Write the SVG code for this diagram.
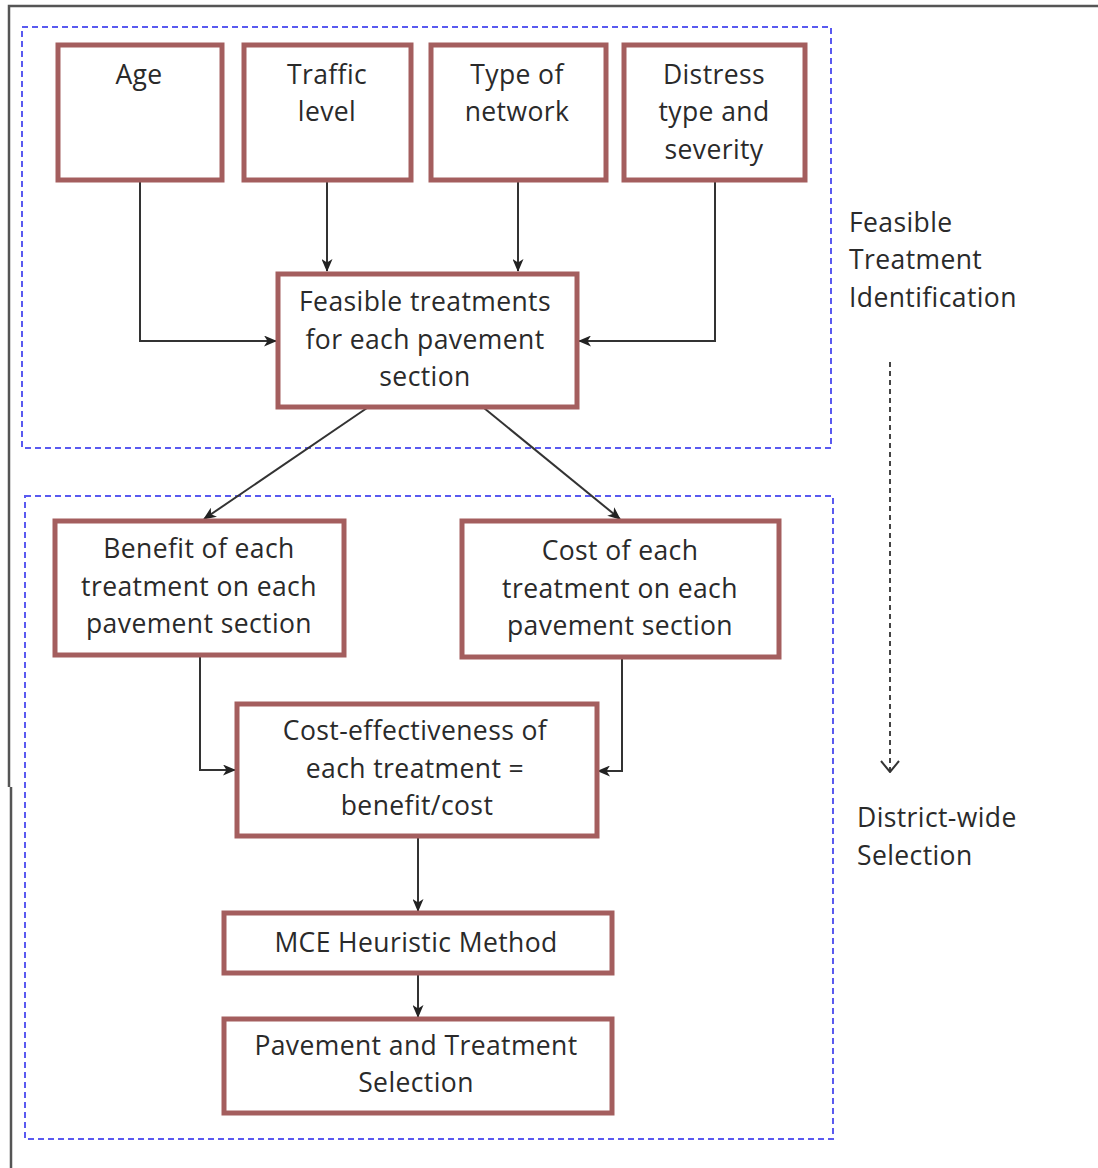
<svg xmlns="http://www.w3.org/2000/svg" width="1098" height="1168" viewBox="0 0 1098 1168">
<defs>
<style>
.box{fill:#fff;stroke:#a45e5e;stroke-width:5}
.grp{fill:none;stroke:#5a5af0;stroke-width:2;stroke-dasharray:6,4}
.t{font-family:"Open Sans","Liberation Sans",Arial,sans-serif;font-size:26.5px;letter-spacing:0.4px;fill:#2a2a2a;text-anchor:middle;dominant-baseline:central}
.lbl{font-family:"Open Sans","Liberation Sans",Arial,sans-serif;font-size:26.5px;letter-spacing:0.4px;fill:#2a2a2a;dominant-baseline:central}
.c{fill:none;stroke:#333;stroke-width:2}
</style>
<marker id="ah" viewBox="0 0 13 11" refX="12" refY="5.5" markerWidth="13" markerHeight="11" markerUnits="userSpaceOnUse" orient="auto">
<path d="M0,0 L13,5.5 L0,11 L3.5,5.5 Z" fill="#222"/>
</marker>
<marker id="oh" viewBox="0 0 20 14" refX="10" refY="13" markerWidth="20" markerHeight="14" markerUnits="userSpaceOnUse" orient="0">
<path d="M1,2 L10,13 L19,2" fill="none" stroke="#333" stroke-width="2"/>
</marker>
</defs>
<rect width="1098" height="1168" fill="#fff"/>
<g id="frame">
<path d="M1098,6 H9 V787" fill="none" stroke="#555" stroke-width="2.5"/>
<path d="M11,787 V1168" fill="none" stroke="#555" stroke-width="2.5"/>
</g>
<g id="group-feasible"><rect class="grp" x="22" y="27" width="809" height="421"/></g>
<g id="group-district"><rect class="grp" x="25" y="496" width="808" height="643"/></g>
<g id="connectors">
<path class="c" d="M140,180 V341 H276" marker-end="url(#ah)"/>
<path class="c" d="M327,180 V271" marker-end="url(#ah)"/>
<path class="c" d="M518,180 V271" marker-end="url(#ah)"/>
<path class="c" d="M715,180 V341 H579" marker-end="url(#ah)"/>
<path class="c" d="M367,408 L204,519" marker-end="url(#ah)"/>
<path class="c" d="M484,408 L620,519" marker-end="url(#ah)"/>
<path class="c" d="M200,655 V770 H235" marker-end="url(#ah)"/>
<path class="c" d="M622,657 V771 H598" marker-end="url(#ah)"/>
<path class="c" d="M418,836 V911" marker-end="url(#ah)"/>
<path class="c" d="M418,973 V1017" marker-end="url(#ah)"/>
<path d="M890,362 V772" fill="none" stroke="#444" stroke-width="2" stroke-dasharray="5,4" marker-end="url(#oh)"/>
</g>
<g id="n-age"><rect class="box" x="58" y="45" width="164" height="135"/><text class="t" x="139" y="74">Age</text></g>
<g id="n-traffic"><rect class="box" x="244" y="45" width="167" height="135"/><text class="t" x="327" y="74">Traffic</text><text class="t" x="327" y="111">level</text></g>
<g id="n-network"><rect class="box" x="431" y="45" width="175" height="135"/><text class="t" x="517" y="74">Type of</text><text class="t" x="517" y="111">network</text></g>
<g id="n-distress"><rect class="box" x="624" y="45" width="181" height="135"/><text class="t" x="714" y="74">Distress</text><text class="t" x="714" y="111">type and</text><text class="t" x="714" y="149">severity</text></g>
<g id="n-feasible"><rect class="box" x="278" y="274" width="299" height="133"/><text class="t" x="425" y="301">Feasible treatments</text><text class="t" x="425" y="339">for each pavement</text><text class="t" x="425" y="376">section</text></g>
<g id="n-benefit"><rect class="box" x="55" y="521" width="289" height="134"/><text class="t" x="199" y="548">Benefit of each</text><text class="t" x="199" y="586">treatment on each</text><text class="t" x="199" y="623">pavement section</text></g>
<g id="n-cost"><rect class="box" x="462" y="521" width="317" height="136"/><text class="t" x="620" y="550">Cost of each</text><text class="t" x="620" y="588">treatment on each</text><text class="t" x="620" y="625">pavement section</text></g>
<g id="n-ce"><rect class="box" x="237" y="704" width="360" height="132"/><text class="t" x="415" y="730">Cost-effectiveness of</text><text class="t" x="415" y="768">each treatment =</text><text class="t" x="417" y="805">benefit/cost</text></g>
<g id="n-mce"><rect class="box" x="224" y="913" width="388" height="60"/><text class="t" x="416" y="942">MCE Heuristic Method</text></g>
<g id="n-select"><rect class="box" x="224" y="1019" width="388" height="94"/><text class="t" x="416" y="1045">Pavement and Treatment</text><text class="t" x="416" y="1082">Selection</text></g>
<g id="labels">
<text class="lbl" x="849" y="222">Feasible</text><text class="lbl" x="849" y="259">Treatment</text><text class="lbl" x="849" y="297">Identification</text>
<text class="lbl" x="857" y="817">District-wide</text><text class="lbl" x="857" y="855">Selection</text>
</g>
</svg>
